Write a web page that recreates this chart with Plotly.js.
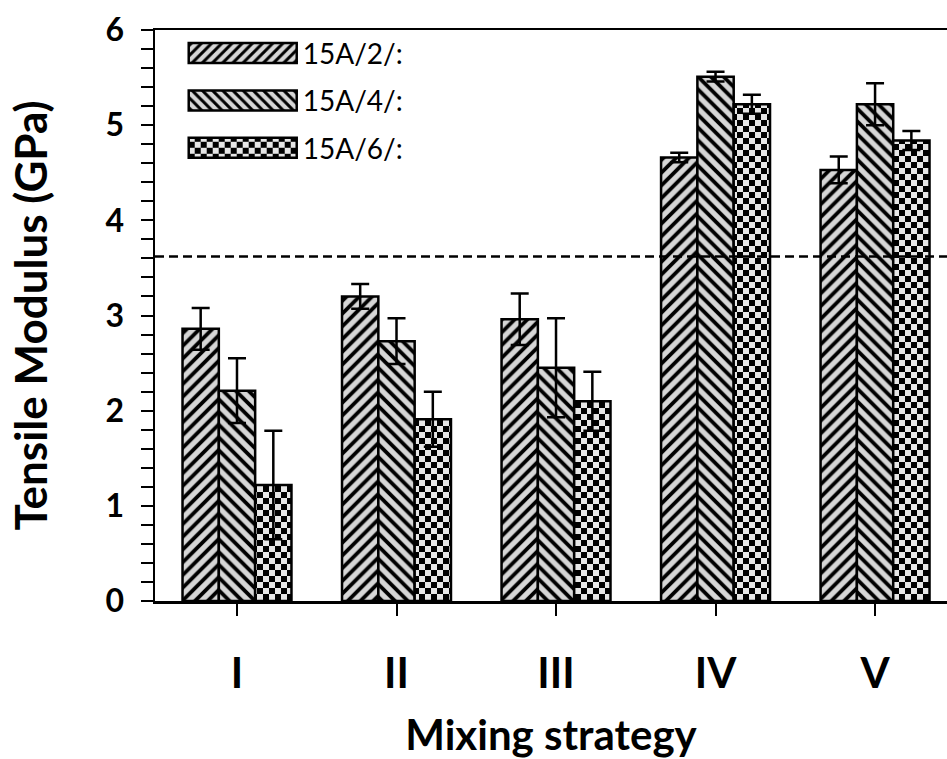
<!DOCTYPE html>
<html>
<head>
<meta charset="utf-8">
<script src="https://cdn.plot.ly/plotly-3.0.1.min.js"></script>
<style>
  html, body { margin: 0; padding: 0; background: #fff; }
  #chart { width: 947px; height: 759px; }
</style>
</head>
<body>
<div id="chart"></div>
<script>
// ---- data ----
const categories = ["I", "II", "III", "IV", "V"];
const seriesNames = ["15A/2/:", "15A/4/:", "15A/6/:"];
const modulus15A2 = [2.86, 3.20, 2.96, 4.66, 4.53];
const error15A2   = [0.22, 0.13, 0.27, 0.05, 0.14];
const modulus15A4 = [2.21, 2.73, 2.45, 5.51, 5.22];
const error15A4   = [0.34, 0.24, 0.52, 0.05, 0.22];
const modulus15A6 = [1.22, 1.91, 2.10, 5.22, 4.84];
const error15A6   = [0.57, 0.29, 0.31, 0.10, 0.10];
const referenceModulus = 3.62;
const yTickValues = [0, 1, 2, 3, 4, 5, 6];

// ---- styling ----
const FONT = "Lato, 'Open Sans', sans-serif";
const GRAY = "#d6d6d6";

function barTrace(name, values, errors, shape, group) {
  return {
    type: "bar",
    name: name,
    x: categories,
    y: values,
    legendgroup: group,
    marker: {
      color: GRAY,
      line: { color: "#000", width: 2.5 },
      pattern: { shape: shape, size: 9, solidity: 0.42, fgcolor: "#000", bgcolor: GRAY, fillmode: "replace" }
    },
    error_y: { type: "data", array: errors, visible: true, color: "#000", thickness: 2.5, width: 9 },
    hoverinfo: "skip"
  };
}

const data = [
  barTrace(seriesNames[0], modulus15A2, error15A2, "/", "a"),
  barTrace(seriesNames[1], modulus15A4, error15A4, "\\", "b"),
  barTrace(seriesNames[2], modulus15A6, error15A6, "+", "c")
];

const layout = {
  width: 947,
  height: 759,
  autosize: false,
  paper_bgcolor: "#fff",
  plot_bgcolor: "#fff",
  margin: { l: 155, r: 0, t: 30, b: 158, pad: 0 },
  font: { family: FONT, color: "#000" },
  barmode: "group",
  bargap: 0.317,
  bargroupgap: 0,
  showlegend: true,
  legend: {
    x: 0.035, y: 1.003, xanchor: "left", yanchor: "top",
    bgcolor: "rgba(0,0,0,0)",
    borderwidth: 0,
    itemwidth: 110,
    tracegroupgap: 8,
    font: { family: FONT, size: 28, color: "#000" }
  },
  xaxis: {
    type: "category",
    range: [-0.514, 4.451],
    showline: true, linecolor: "#000", linewidth: 2.5, mirror: true,
    ticks: "outside", ticklen: 12, tickwidth: 2, tickcolor: "#000",
    showgrid: false, zeroline: false,
    ticklabelstandoff: 22,
    tickfont: { family: FONT, size: 42, weight: "bold", color: "#000" },
    title: { text: "Mixing strategy", font: { family: FONT, size: 42, weight: "bold", color: "#000" }, standoff: 34 }
  },
  yaxis: {
    range: [0, 6],
    tickvals: yTickValues,
    ticktext: yTickValues.map(String),
    showline: true, linecolor: "#000", linewidth: 2.5,
    ticks: "outside", ticklen: 12, tickwidth: 2, tickcolor: "#000",
    minor: { dtick: 0.2, ticks: "outside", ticklen: 12, tickwidth: 2, tickcolor: "#000", showgrid: false },
    showgrid: false, zeroline: false,
    ticklabelstandoff: 10,
    tickfont: { family: FONT, size: 32, weight: "bold", color: "#000" },
    title: { text: "Tensile Modulus (GPa)", font: { family: FONT, size: 44, weight: "bold", color: "#000" }, standoff: 44 }
  },
  shapes: [
    { type: "line", xref: "paper", x0: 0, x1: 1, yref: "y", y0: referenceModulus, y1: referenceModulus,
      line: { color: "#000", width: 2.5, dash: "9px,5px" }, layer: "above" }
  ]
};

const gd = document.getElementById("chart");
Plotly.newPlot(gd, data, layout, { displayModeBar: false, staticPlot: true }).then(function () {
  const ns = "http://www.w3.org/2000/svg";
  const svg = gd.querySelector("svg.main-svg");
  let defs = svg.querySelector("defs");
  const pat = document.createElementNS(ns, "pattern");
  pat.setAttribute("id", "checkerFill");
  pat.setAttribute("patternUnits", "userSpaceOnUse");
  pat.setAttribute("width", "12");
  pat.setAttribute("height", "12");
  const rects = [["0","0","12","12","#e6e6e6"],["0","0","6","6","#000"],["6","6","6","6","#000"]];
  rects.forEach(function (r) {
    const el = document.createElementNS(ns, "rect");
    el.setAttribute("x", r[0]); el.setAttribute("y", r[1]);
    el.setAttribute("width", r[2]); el.setAttribute("height", r[3]);
    el.setAttribute("fill", r[4]);
    pat.appendChild(el);
  });
  defs.appendChild(pat);

  const traces = gd.querySelectorAll(".barlayer .trace.bars");
  if (traces[2]) {
    traces[2].querySelectorAll(".point path").forEach(function (p) { p.style.fill = "url(#checkerFill)"; });
  }
  gd.querySelectorAll(".legend .traces").forEach(function (t) {
    const txt = t.querySelector(".legendtext");
    t.querySelectorAll(".legendpoints path").forEach(function (p) {
      p.setAttribute("d", "M54,10H-54V-10H54Z");
      p.style.strokeWidth = "2.5px";
      p.style.stroke = "#000";
      if (txt && txt.textContent === seriesNames[2]) p.style.fill = "url(#checkerFill)";
    });
  });
});
</script>
</body>
</html>
